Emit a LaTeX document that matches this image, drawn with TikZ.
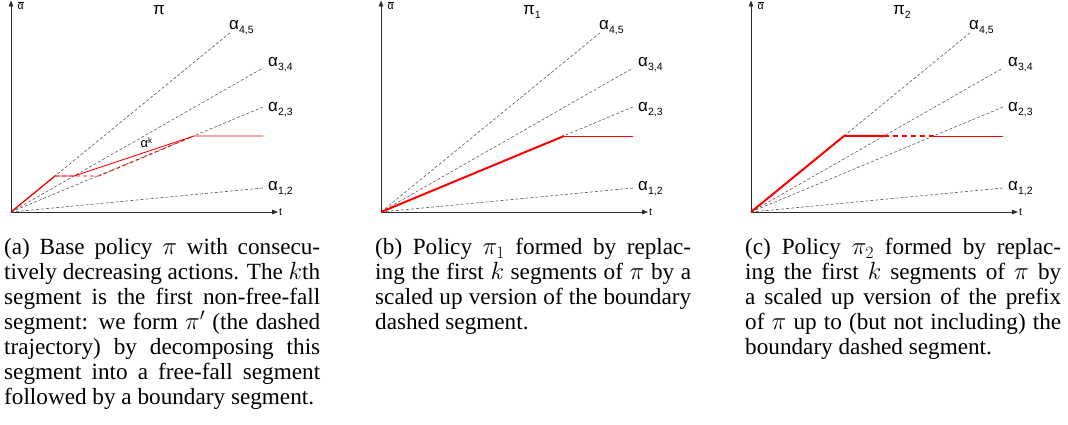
\documentclass[tikz,border=0pt]{standalone}
\usepackage{fontspec}
\setmainfont{Liberation Serif}
\newfontfamily\plotfont{Liberation Sans}
\usetikzlibrary{arrows.meta}
\definecolor{guidegray}{HTML}{5A5A5A}
\definecolor{axisink}{HTML}{2A2A2A}
\definecolor{pathred}{HTML}{FF0000}
\newcommand{\sublbl}[2]{#1\raisebox{-4pt}{\fontsize{10.5}{10.5}\selectfont #2}}

\begin{document}
\begin{tikzpicture}[x=1pt,y=-1pt,
    guide/.style={guidegray,line width=.6pt,dash pattern=on 3pt off 2pt},
    axisline/.style={axisink,line width=.8pt,-{Triangle[length=6pt,width=4.5pt]}},
    thinred/.style={pathred,line width=.8pt},
    thickred/.style={pathred,line width=2pt},
    lbl/.style={inner sep=0,anchor=base west,font=\plotfont\fontsize{17}{17}\selectfont},
    smalllbl/.style={inner sep=0,anchor=base west,font=\plotfont\fontsize{10.5}{10.5}\selectfont},
    capbox/.style={inner sep=0,anchor=north west,text width=316pt,align=justify,
      font=\fontsize{23.2}{25}\selectfont}]
  \useasboundingbox (0,0) rectangle (1068,425);

  % axes and guide rays, same in all three panels
  \foreach \px/\nm in {0/a,370/b,740/c}{
    \begin{scope}[xshift=\px pt]
      \coordinate (o-\nm) at (11,212);
      \coordinate (ytop-\nm) at (11,0.5);
      \coordinate (xend-\nm) at (278,212);
      \draw[axisline] (o-\nm) -- (ytop-\nm);
      \draw[axisline] (o-\nm) -- (xend-\nm);
      \node[smalllbl] (abar-\nm) at (17.5,9.5) {$\overline{\hbox{α}}$};
      \node[smalllbl] (t-\nm) at (279,215) {t};
      \draw[guide] (o-\nm) -- (231,32);
      \draw[guide] (o-\nm) -- (263,68);
      \draw[guide] (o-\nm) -- (263,107);
      \draw[guide] (o-\nm) -- (263,188);
      \node[lbl] (r45-\nm) at (229,30) {\sublbl{α}{4,5}};
      \node[lbl] (r34-\nm) at (268,67) {\sublbl{α}{3,4}};
      \node[lbl] (r23-\nm) at (268,112) {\sublbl{α}{2,3}};
      \node[lbl] (r12-\nm) at (268,190) {\sublbl{α}{1,2}};
    \end{scope}
  }

  % (a) base policy
  \node[lbl] (title-a) at (153,15) {π};
  \draw[pathred,line width=1.3pt] (o-a) -- (55,176);
  \draw[thinred] (55,176) -- (74,176) -- (194,136) -- (263,136);
  \draw[thinred,dash pattern=on 4pt off 3pt] (55,176) -- (99,176) -- (194,136);
  \node[inner sep=0,anchor=base west,font=\plotfont\fontsize{13}{13}\selectfont]
    (ak) at (140.5,148) {α\raisebox{4.5pt}{\fontsize{8}{8}\selectfont k}};

  % (b) policy pi_1
  \begin{scope}[xshift=370pt]
    \node[lbl] (title-b) at (153,15) {\sublbl{π}{1}};
    \draw[thickred] (o-b) -- (194,136);
    \draw[thinred] (194,136) -- (263,136);
  \end{scope}

  % (c) policy pi_2
  \begin{scope}[xshift=740pt]
    \node[lbl] (title-c) at (153,15) {\sublbl{π}{2}};
    \draw[thickred] (o-c) -- (104,136) -- (144,136);
    \draw[thickred,dash pattern=on 5pt off 4pt] (144,136) -- (194,136);
    \draw[thinred] (194,136) -- (263,136);
  \end{scope}

  % captions
  \node[capbox] (cap-a) at (4,238) {(a) Base policy $\pi$ with consecu-\linebreak
    tively decreasing actions. The $k$th\linebreak
    segment is the first non-free-fall\linebreak
    segment: we form $\pi'$ (the dashed\linebreak
    trajectory) by decomposing this\linebreak
    segment into a free-fall segment\linebreak
    followed by a boundary segment.};
  \node[capbox] (cap-b) at (375,238) {(b) Policy $\pi_1$ formed by replac-\linebreak
    ing the first $k$ segments of $\pi$ by a\linebreak
    scaled up version of the boundary\linebreak
    dashed segment.};
  \node[capbox] (cap-c) at (745,238) {(c) Policy $\pi_2$ formed by replac-\linebreak
    ing the first $k$ segments of $\pi$ by\linebreak
    a scaled up version of the prefix\linebreak
    of $\pi$ up to (but not including) the\linebreak
    boundary dashed segment.};
\end{tikzpicture}
\end{document}
